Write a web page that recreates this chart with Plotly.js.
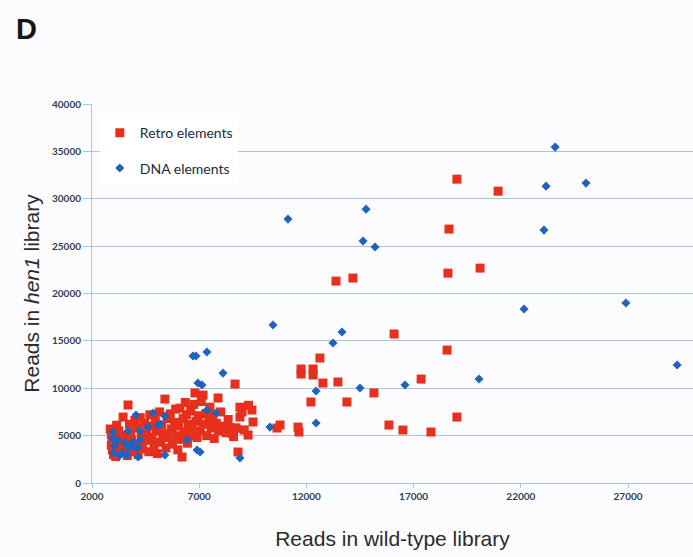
<!DOCTYPE html>
<html>
<head>
<meta charset="utf-8">
<script src="https://cdn.plot.ly/plotly-3.0.1.min.js"></script>
<style>html,body{margin:0;padding:0;background:#fcfcfe;}#chart{width:693px;height:557px;}</style>
</head>
<body>
<div id="chart"></div>
<script>
// Retro elements (red squares): reads in wild-type library (x) vs reads in hen1 library (y)
const retroX = [
  19020,20940,18650,18600,20100,18560,13380,14170,16090,12630,11750,11750,12310,12310,12770,13470,17350,12210,13890,15150,19020,10770,10630,11610,11650,15850,16500,17810,8670,
  2850,2900,2950,2900,2950,3000,3100,3150,3250,3300,3250,3350,3450,3500,3550,3600,3650,3680,3750,3800,3850,3900,
  4000,4050,4100,4150,4250,4300,4350,4450,4500,4550,4650,4700,4750,4800,4900,4950,
  5000,5050,5150,5200,5250,5300,5400,5450,5500,5550,5650,5700,5750,5850,5900,5950,
  6000,6050,6100,6150,6200,6250,6300,6350,6400,6450,6500,6550,6600,6650,6750,6800,6850,6900,6950,
  7050,7100,7180,7200,7300,7350,7450,7500,7550,7650,7700,7800,7880,7900,
  8000,8100,8250,8350,8440,8450,8530,8600,8670,8720,8810,8900,8900,9000,9100,9280,9300,9460,9510
];
const retroY = [
  32070,30800,26800,22150,22680,14030,21310,21630,15720,13190,12030,11500,12030,11400,10550,10660,10970,8550,8550,9500,6960,6120,5800,5900,5380,6120,5590,5380,10440,
  5700,5100,4600,4000,3500,3000,2800,6100,5500,4700,3900,3300,6960,5000,4300,3700,2900,8230,6200,5200,4500,3300,
  6600,5800,4100,3000,6900,5000,3600,6300,4500,5400,3300,7200,6000,4800,3900,6600,
  5500,3100,7500,4300,6100,5200,8860,3700,6800,4800,7300,5700,4100,6400,7800,5000,
  3500,6000,7900,4600,2740,6800,5400,8500,7200,4200,6200,5000,7600,5700,8300,9500,6500,4800,7100,
  5500,8600,9280,6200,7300,5000,6700,8000,5800,7100,4700,6300,8970,5500,
  7500,6000,5300,6700,5800,5800,5270,4900,5800,5800,3270,8000,6960,7500,5600,5060,8200,7700,6440
];

// DNA elements (blue diamonds)
const dnaX = [
  23600,23175,25040,23080,22150,26900,29290,20050,14780,11140,14640,15200,10440,13660,13240,12450,14500,16600,12450,10300,
  2980,2950,3050,3000,3210,3300,3400,3540,3630,3680,3680,3910,3900,4050,4150,4150,4240,4240,4610,4850,
  5080,5170,5400,5400,6430,6710,6850,6900,6940,7040,7130,7360,7360,7780,8110,8900
];
const dnaY = [
  35450,31330,31650,26690,18360,18990,12450,10970,28900,27850,25530,24900,16670,15930,14770,9710,10020,10340,6330,5900,
  5380,4700,3900,3200,4540,2900,3170,4220,2950,5490,3800,3800,4300,7170,3690,2740,5490,4540,5910,7390,
  6120,6230,7070,2950,4540,13400,13400,3480,10550,3270,10340,13820,7700,7390,11600,2640
];

const seriesNames = ["Retro elements", "DNA elements"];
const xTickVals = [2000, 7000, 12000, 17000, 22000, 27000];
const yTickVals = [0, 5000, 10000, 15000, 20000, 25000, 30000, 35000, 40000];

const gridCol = '#a9c6d6';
const tickFont = {family: 'Lato, "Open Sans", sans-serif', size: 10, color: '#2e3f52', weight: 700};

const traces = [
  {x: retroX, y: retroY, name: seriesNames[0], type: 'scatter', mode: 'markers', legendgroup: 'a',
   marker: {symbol: 'square', size: 9, color: '#e6301d'}},
  {x: dnaX, y: dnaY, name: seriesNames[1], type: 'scatter', mode: 'markers', legendgroup: 'b',
   marker: {symbol: 'diamond', size: 7, color: '#1f63bf'}}
];

const layout = {
  width: 693, height: 557,
  paper_bgcolor: '#fcfcfe', plot_bgcolor: '#fcfcfe',
  margin: {l: 92, r: 0, t: 104, b: 74},
  showlegend: true,
  legend: {x: 0.013, y: 0.965, xanchor: 'left', yanchor: 'top', bgcolor: '#ffffff',
           font: {family: 'Lato, "Open Sans", sans-serif', size: 14, color: '#1e2b38'},
           traceorder: 'grouped', tracegroupgap: 14, itemwidth: 30},
  xaxis: {
    range: [2000, 30030], tickvals: xTickVals, ticktext: xTickVals.map(String),
    showgrid: false, zeroline: false, showline: true, linecolor: gridCol, linewidth: 1,
    ticks: 'outside', ticklen: 4, tickcolor: gridCol, tickfont: tickFont,
    title: {text: 'Reads in wild-type library', standoff: 30,
            font: {family: '"Liberation Sans", Arial, sans-serif', size: 21, color: '#2b2b2b'}}
  },
  yaxis: {
    range: [0, 40000], tickvals: yTickVals, ticktext: yTickVals.map(String),
    showgrid: true, gridcolor: gridCol, gridwidth: 1, zeroline: false,
    showline: true, linecolor: gridCol, linewidth: 1,
    ticks: 'outside', ticklen: 8, tickcolor: gridCol, tickfont: tickFont,
    title: {text: 'Reads in <i>hen1</i> library', standoff: 6,
            font: {family: '"Liberation Sans", Arial, sans-serif', size: 21, color: '#2b2b2b'}}
  },
  annotations: [
    {text: '<b>D</b>', xref: 'paper', yref: 'paper', x: -0.13, y: 1.245, xanchor: 'left', yanchor: 'top',
     showarrow: false, font: {family: '"Liberation Sans", Arial, sans-serif', size: 29, color: '#151515'}}
  ]
};

Plotly.newPlot('chart', traces, layout, {displayModeBar: false, staticPlot: true});
</script>
</body>
</html>
